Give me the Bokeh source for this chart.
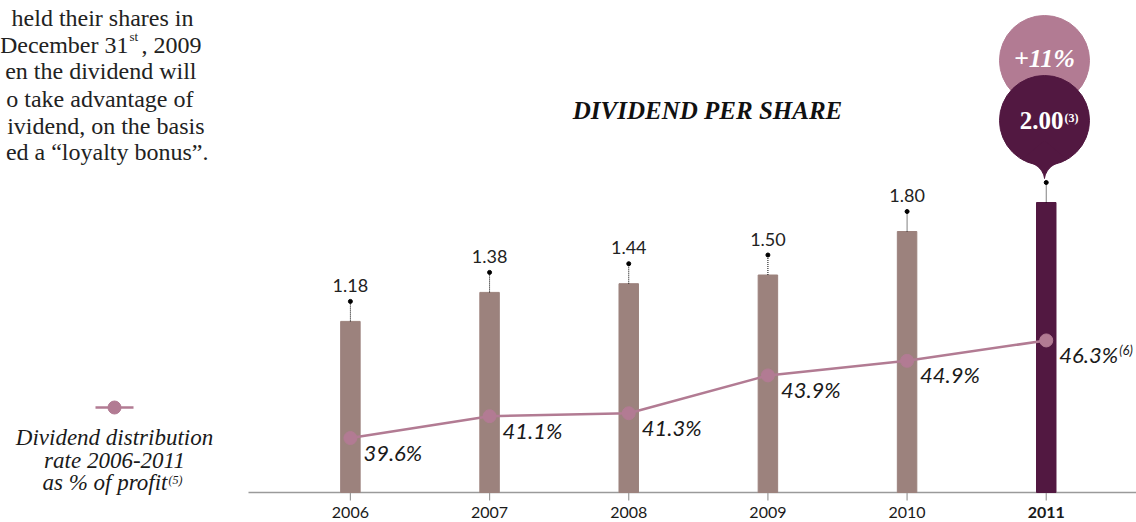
import numpy as np
from bokeh.plotting import figure
from bokeh.models import Range1d, ColumnDataSource
from bokeh.embed import file_html
from bokeh.resources import INLINE
from bokeh.core.properties import value

# ---------------- data ----------------
years = [2006, 2007, 2008, 2009, 2010, 2011]
tick_labels = ["2006", "2007", "2008", "2009", "2010", "2011"]
tick_weights = ["normal", "normal", "normal", "normal", "normal", "bold"]
dividend = [1.18, 1.38, 1.44, 1.50, 1.80, 2.00]
dividend_labels = ["1.18", "1.38", "1.44", "1.50", "1.80", "2.00"]
payout = [39.6, 41.1, 41.3, 43.9, 44.9, 46.3]
payout_labels = ["39.6%", "41.1%", "41.3%", "43.9%", "44.9%", "46.3%"]
increase_label = "+11%"

# ---------------- styles ----------------
GREY_BAR = "#9c827d"
PLUM = "#521841"
MAUVE = "#b27b93"
SERIF = "Liberation Serif"
SANS = "Lato"

W, H = 1136, 522
PX_PER_UNIT = 145.0          # vertical scale of the dividend bars (px per euro)
p = figure(width=W, height=H, output_backend="svg", toolbar_location=None,
           x_range=Range1d(2003.4858, 2011.6485),
           y_range=Range1d(-30 / PX_PER_UNIT, 492 / PX_PER_UNIT),
           min_border_left=0, min_border_right=0, min_border_top=0, min_border_bottom=0,
           x_axis_location=None, y_axis_location=None)
p.extra_x_ranges = {"px": Range1d(0, W)}
p.extra_y_ranges = {"px": Range1d(H, 0), "pct": Range1d(33.80, 69.64)}
p.xgrid.visible = False
p.ygrid.visible = False
p.outline_line_color = None
p.background_fill_color = "white"
p.border_fill_color = "white"


def note(x, y, txt, align="left", font=SERIF, size="24px", style="normal", color="#222222"):
    p.text(x=[x], y=[y], text=[txt], text_align=align, text_baseline="middle",
           text_font=value(font), text_font_size=size, text_font_style=style,
           text_color=color, x_range_name="px", y_range_name="px")


# ---------------- category axis (baseline, ticks, year labels) ----------------
p.segment(x0=[248], y0=[492], x1=[W], y1=[492], line_color="#9a9a9a", line_width=1.3,
          x_range_name="px", y_range_name="px")
p.segment(x0=years, y0=[0] * 6, x1=years, y1=[-8 / PX_PER_UNIT] * 6,
          line_color="#9a9a9a", line_width=1.2)
p.text(x=years, y=[0] * 6, text=tick_labels, text_font_style=tick_weights,
       text_align="center", text_baseline="middle", y_offset=20,
       text_font=value(SANS), text_font_size="16px", text_color="#1a1a1a")

# ---------------- bars ----------------
stem = 20 / PX_PER_UNIT  # dotted stem above each bar (style)
src = ColumnDataSource(dict(
    x=years, top=dividend, color=[GREY_BAR] * 5 + [PLUM],
    stem=[d + stem for d in dividend]))
p.vbar(x="x", top="top", bottom=0, width=0.14, color="color", source=src)
p.segment(x0="x", y0="top", x1="x", y1="stem", source=src, line_dash="1 1",
          line_color="black", line_width=1)
p.scatter(x="x", y="stem", source=src, size=4, color="black")
p.text(x=years[:5], y=[d + stem for d in dividend[:5]], text=dividend_labels[:5],
       text_align="center", text_baseline="middle", y_offset=-16,
       text_font=value(SANS), text_font_size="18px", text_color="#222222")

# ---------------- payout line ----------------
p.line(x=years, y=payout, y_range_name="pct", line_color=MAUVE, line_width=2.5)
p.scatter(x=years, y=payout, y_range_name="pct", size=13, color=MAUVE)
p.text(x=years, y=payout, text=payout_labels, y_range_name="pct",
       x_offset=13, y_offset=14, text_baseline="middle", text_align="left",
       text_font=value(SANS), text_font_style="italic", text_font_size="22px",
       text_color="#1a1a1a")
p.text(x=[years[-1]], y=[payout[-1]], text=["(6)"], y_range_name="pct",
       x_offset=73, y_offset=10, text_baseline="middle", text_align="left",
       text_font=value(SANS), text_font_style="italic", text_font_size="13px",
       text_color="#1a1a1a")

# ---------------- balloon for 2011 ----------------
cx = 1044
p.circle(x=[cx], y=[60], radius=45, color=MAUVE, x_range_name="px", y_range_name="px")
p.circle(x=[cx], y=[120], radius=45, color=PLUM, x_range_name="px", y_range_name="px")
t = np.linspace(0, 1, 20)
x0, y0, xc, yc, x1, y1 = cx - 22.4, 159, cx - 2, 164, cx, 178
lx = (1 - t) ** 2 * x0 + 2 * (1 - t) * t * xc + t ** 2 * x1
ly = (1 - t) ** 2 * y0 + 2 * (1 - t) * t * yc + t ** 2 * y1
px_ = list(lx) + list(2 * cx - lx[::-1]) + [cx]
py_ = list(ly) + list(ly[::-1]) + [140]
p.patch(x=px_, y=py_, color=PLUM, x_range_name="px", y_range_name="px")

note(cx, 58, increase_label, align="center", size="26px", style="bold italic", color="white")
note(1063, 120, dividend_labels[-1], align="right", size="25px", style="bold", color="white")
note(1064, 117, "(3)", size="12px", style="bold", color="white")

# ---------------- title ----------------
note(707, 110, "DIVIDEND PER SHARE", align="center", size="25px", style="bold italic",
     color="#111111")

# ---------------- left paragraph (cropped in the source) ----------------
note(193, 17, "held their shares in", align="right")
note(128, 44, "December 31", align="right")
note(129, 36, "st", size="13px")
note(141, 44, ", 2009")
note(196, 70, "en the dividend will", align="right")
note(193, 98, "o take advantage of", align="right")
note(204, 125, "ividend, on the basis", align="right")
note(208, 151, "ed a \u201cloyalty bonus\u201d.", align="right")

# ---------------- legend ----------------
p.segment(x0=[95], y0=[407], x1=[133], y1=[407], line_color=MAUVE, line_width=2.5,
          x_range_name="px", y_range_name="px")
p.scatter(x=[114], y=[407], size=13, color=MAUVE, x_range_name="px", y_range_name="px")
note(114, 437, "Dividend distribution", align="center", size="23px", style="italic",
     color="#1a1a1a")
note(114, 460, "rate 2006-2011", align="center", size="23px", style="italic", color="#1a1a1a")
note(167, 482, "as % of profit", align="right", size="23px", style="italic", color="#1a1a1a")
note(168, 479, "(5)", size="12px", style="italic", color="#1a1a1a")

open("out.html", "w").write(file_html(p, INLINE))
